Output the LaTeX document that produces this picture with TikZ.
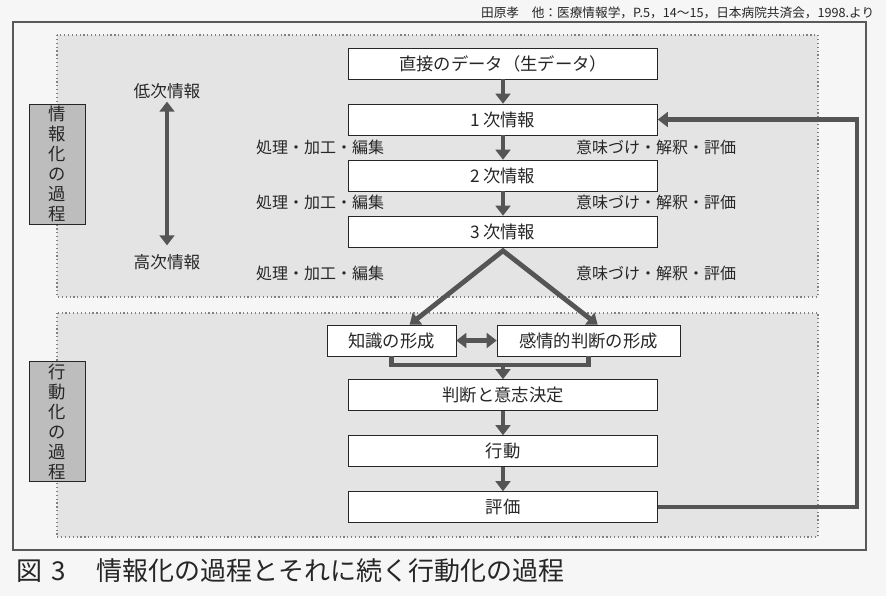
\documentclass[tikz,border=0pt]{standalone}
\usepackage{fontspec}
\setmainfont{Noto Sans CJK JP}
\usepackage{xcolor}
\usetikzlibrary{arrows.meta,calc,positioning}

\definecolor{ink}{HTML}{262626}
\definecolor{flow}{HTML}{555555}
\definecolor{screen}{HTML}{E4E4E4}
\definecolor{paper}{HTML}{F6F6F6}
\definecolor{tagfill}{HTML}{BDBDBD}

\begin{document}
\begin{tikzpicture}[x=0.75pt,y=-0.75pt,node distance=42pt,
                    >={Triangle[width=11pt,length=7.5pt]},
                    databox/.style={draw=ink,fill=white,text=ink,minimum width=231.75pt,
                      minimum height=23.25pt,inner sep=0pt,font=\fontsize{13}{15}\selectfont},
                    sidetext/.style={text=ink,inner sep=2pt,font=\fontsize{12}{14}\selectfont},
                    tagbox/.style={draw=ink,fill=tagfill,text=ink,minimum width=42pt,
                      minimum height=90pt,align=center,inner sep=0pt,font=\fontsize{13}{15}\selectfont},
                    flowline/.style={draw=flow,line width=3.6pt},
                    flowarrow/.style={flowline,->},
                    regionbox/.style={draw=gray,dotted,fill=screen,line width=0.9pt}]

  \useasboundingbox[fill=paper] (0,0) rectangle (886,596);

  % frame and the two process areas
  \draw[gray!70!black,line width=1.2pt] (13,22) rectangle (866,550);
  \draw[regionbox] (57,35) rectangle (818,297);
  \draw[regionbox] (57,313) rectangle (818,537);

  \node[anchor=east,text=ink,font=\fontsize{9.5}{11}\selectfont] (source) at (879,13)
    {田原孝　他：医療情報学，P.5，14～15，日本病院共済会，1998.より};

  \node[tagbox] (infotag) at (57,164) {情\\報\\化\\の\\過\\程};
  \node[tagbox] (acttag)  at (57,421.5) {行\\動\\化\\の\\過\\程};

  \node[sidetext,font=\fontsize{12.5}{14}\selectfont] (low)  at (167,91)  {低次情報};
  \node[sidetext,font=\fontsize{12.5}{14}\selectfont] (high) at (167,262) {高次情報};

  % information chain
  \node[databox] (raw) at (503,63.5) {直接のデータ（生データ）};
  \node[databox] (info1) [below of=raw]   {1\,次情報};
  \node[databox] (info2) [below of=info1] {2\,次情報};
  \node[databox] (info3) [below of=info2] {3\,次情報};

  \node[sidetext] (proc1) at (320,147) {処理・加工・編集};
  \node[sidetext] (proc2) at (320,202) {処理・加工・編集};
  \node[sidetext] (proc3) at (320,273) {処理・加工・編集};
  \node[sidetext] (mean1) at (656,147) {意味づけ・解釈・評価};
  \node[sidetext] (mean2) at (656,202) {意味づけ・解釈・評価};
  \node[sidetext] (mean3) at (656,273) {意味づけ・解釈・評価};

  % action chain
  \node[databox,minimum width=96.75pt]  (knowledge) at (391.5,340.5) {知識の形成};
  \node[databox,minimum width=137.25pt] (emotion)   at (588.5,340.5) {感情的判断の形成};
  \node[databox] (decision) at (503,395) {判断と意志決定};
  \node[databox] (action) [below of=decision] {行動};
  \node[databox] (evaluation) [below of=action] {評価};

  \coordinate (apex)  at ($(info3.south)+(0,3.5)$);
  \coordinate (merge) at (503,365);
  \coordinate (loop)  at (857,0);

  \draw[flowarrow,<->,shorten >=4.5pt] (low) -- (high);
  \draw[flowarrow] (raw) -- (info1);
  \draw[flowarrow] (info1) -- (info2);
  \draw[flowarrow] (info2) -- (info3);
  \draw[flowarrow,<->,line join=miter]
    ($(knowledge.north west)!0.64!(knowledge.north east)$) -- (apex)
    -- ($(emotion.north west)!0.55!(emotion.north east)$);
  \draw[flowarrow,<->] (knowledge) -- (emotion);
  \draw[flowline,line join=miter] (knowledge.south) |- (merge) -| (emotion.south);
  \draw[flowarrow] (merge) -- (decision);
  \draw[flowarrow] (decision) -- (action);
  \draw[flowarrow] (action) -- (evaluation);
  \draw[flowarrow,line join=miter] (evaluation.east) -- (evaluation.east -| loop) |- (info1.east);

  \node[anchor=west,text=ink,font=\fontsize{19.5}{22}\selectfont] (caption) at (12,571)
    {図\,\,3\hspace{1.2em}情報化の過程とそれに続く行動化の過程};
\end{tikzpicture}
\end{document}
